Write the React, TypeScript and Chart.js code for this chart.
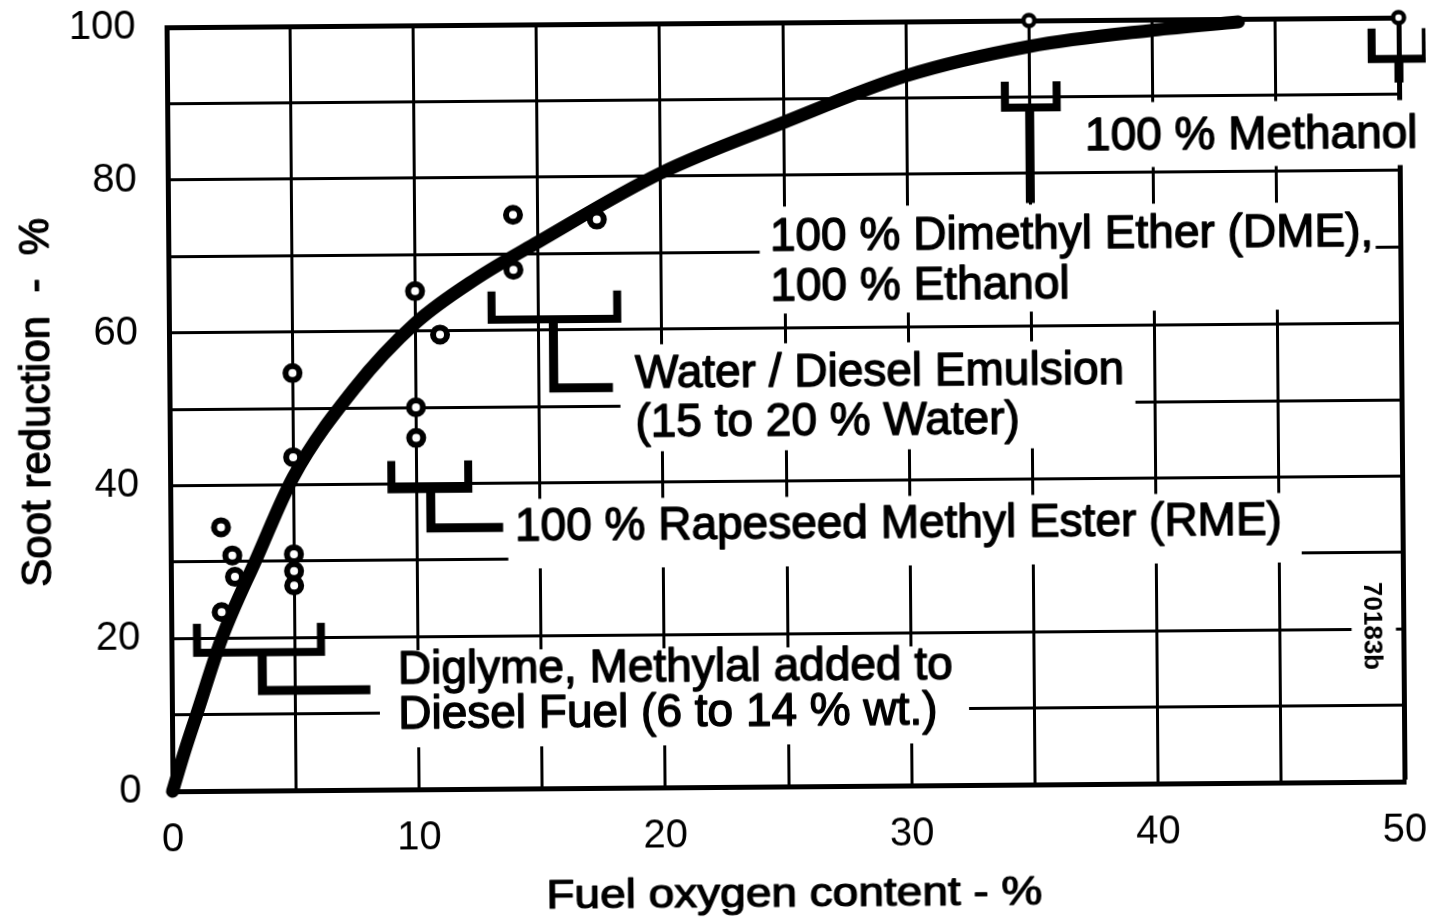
import React, { useEffect, useRef } from "react";
import { Chart, registerables } from "chart.js";

Chart.register(...registerables);

const FONT = '"Liberation Sans", Arial, Helvetica, sans-serif';

// ---- axes ----
const xMin = 0;
const xMax = 50;
const xGridStep = 5;
const xLabelStep = 10;
const yMin = 0;
const yMax = 100;
const yGridStep = 10;
const yLabelStep = 20;
const xTitle = "Fuel oxygen content - %";
const yTitle = "Soot reduction  -  %";

// ---- trend curve ----
const curveX = [0, 0.5, 1, 2.05, 3.5, 5, 7.5, 10, 12.5, 15, 20, 25, 30, 35, 40, 43.5];
const curveY = [0, 5.2, 10, 20, 30.5, 41, 52.5, 61, 66.8, 71.5, 80.4, 86.9, 92.9, 96.6, 98.6, 99.6];

// ---- measured points ----
const pointX = [2.05, 2.5, 2.6, 2.05, 5, 5, 5, 5, 5, 10, 10, 10, 11, 14, 14, 17.4];
const pointY = [34.5, 30.8, 28, 23.4, 30.9, 28.7, 26.8, 43.6, 54.6, 65.2, 50, 46, 59.5, 75.1, 67.9, 74.4];

// ---- pure-fuel points (top) ----
const pureX = [35, 50];
const pureY = [100, 100];

// ---- brackets (data units) ----
const bracketLeft = [1.04, 8.98, 13.1, 34.0, 48.9];
const bracketRight = [6.07, 12.1, 18.2, 36.1, 51.1];
const bracketBar = [18.1, 39.3, 61.4, 88.6, 94.6];
const bracketTop = [21.9, 43.0, 65.1, 92.0, 98.6];
const connectorX = [3.68, 10.57, 15.6, 35, 50];
const connectorLow = [13.1, 34.2, 52.4, 76.1, 91.5];
const connectorEnd: (number | null)[] = [8.06, 13.5, 18.0, null, null];

// ---- annotation labels ----
const labelLines = [
  ["Diglyme, Methylal added to", "Diesel Fuel (6 to 14 % wt.)"],
  ["100 % Rapeseed Methyl Ester (RME)"],
  ["Water / Diesel Emulsion", "(15 to 20 % Water)"],
  ["100 % Dimethyl Ether (DME),", "100 % Ethanol"],
  ["100 % Methanol"],
];
const labelX = [9.18, 13.98, 18.9, 24.42, 37.24];
const labelY = [[15.6, 9.7], [34.1], [54.0, 47.6], [71.8, 65.26], [84.6]];

// white areas behind the labels (data units)
const maskX0 = [8.44, 13.7, 18.3, 24.0, 36.7, 47.9];
const maskX1 = [32.35, 45.9, 39.2, 49.0, 51.6, 49.7];
const maskY0 = [5.5, 28.8, 44.0, 61.9, 80.7, 14.4];
const maskY1 = [18.2, 37.9, 58.0, 75.9, 89.2, 27.5];

const figureCode = "70183b";
const figureCodeX = 48.7;
const figureCodeY = 20.4;

const annotationPlugin = {
  id: "sootAnnotations",
  beforeDatasetsDraw(chart: any) {
    const { ctx, scales } = chart;
    const xs = scales.x;
    const ys = scales.y;
    const px = (v: number) => xs.getPixelForValue(v);
    const py = (v: number) => ys.getPixelForValue(v);
    ctx.save();
    // masks
    ctx.fillStyle = "#ffffff";
    for (let i = 0; i < maskX0.length; i++) {
      const x0 = px(maskX0[i]);
      const x1 = px(maskX1[i]);
      const y0 = py(maskY1[i]);
      const y1 = py(maskY0[i]);
      ctx.fillRect(x0, y0, x1 - x0, y1 - y0);
    }
    // thin lines from pure-fuel points down to brackets
    ctx.strokeStyle = "#000";
    ctx.lineWidth = 3;
    for (let i = 0; i < pureX.length; i++) {
      ctx.beginPath();
      ctx.moveTo(px(pureX[i]), py(pureY[i]));
      ctx.lineTo(px(pureX[i]), py(bracketBar[3 + i]));
      ctx.stroke();
    }
    // brackets
    ctx.lineJoin = "miter";
    ctx.lineCap = "butt";
    for (let i = 0; i < bracketLeft.length; i++) {
      ctx.lineWidth = 8;
      ctx.beginPath();
      ctx.moveTo(px(bracketLeft[i]), py(bracketTop[i]));
      ctx.lineTo(px(bracketLeft[i]), py(bracketBar[i]));
      ctx.lineTo(px(bracketRight[i]), py(bracketBar[i]));
      ctx.lineTo(px(bracketRight[i]), py(bracketTop[i]));
      ctx.stroke();
      ctx.lineWidth = 9;
      ctx.beginPath();
      ctx.moveTo(px(connectorX[i]), py(bracketBar[i]));
      ctx.lineTo(px(connectorX[i]), py(connectorLow[i]));
      const end = connectorEnd[i];
      if (end !== null) ctx.lineTo(px(end), py(connectorLow[i]));
      ctx.stroke();
    }
    // labels
    ctx.fillStyle = "#000";
    ctx.font = `46px ${FONT}`;
    ctx.textBaseline = "middle";
    ctx.textAlign = "left";
    ctx.lineWidth = 1.4;
    ctx.lineJoin = "round";
    for (let i = 0; i < labelLines.length; i++) {
      for (let j = 0; j < labelLines[i].length; j++) {
        const tx = px(labelX[i]);
        const ty = py(labelY[i][j]);
        ctx.fillText(labelLines[i][j], tx, ty);
        ctx.strokeText(labelLines[i][j], tx, ty);
      }
    }
    // figure code, rotated
    ctx.save();
    ctx.translate(px(figureCodeX), py(figureCodeY));
    ctx.rotate(Math.PI / 2);
    ctx.font = `bold 26px ${FONT}`;
    ctx.textAlign = "center";
    ctx.fillText(figureCode, 0, 0);
    ctx.restore();
    ctx.restore();
  },
  afterDraw(chart: any) {
    const { ctx, chartArea } = chart;
    ctx.save();
    ctx.fillStyle = "#000";
    ctx.strokeStyle = "#000";
    ctx.lineWidth = 1.2;
    ctx.lineJoin = "round";
    // y title
    ctx.save();
    ctx.translate(chartArea.left - 120, (chartArea.top + chartArea.bottom) / 2 - 8);
    ctx.rotate(-Math.PI / 2);
    ctx.font = `42px ${FONT}`;
    ctx.textAlign = "center";
    ctx.textBaseline = "alphabetic";
    ctx.fillText(yTitle, 0, 0);
    ctx.strokeText(yTitle, 0, 0);
    ctx.restore();
    // x title
    ctx.save();
    ctx.translate((chartArea.left + chartArea.right) / 2 + 5, chartArea.bottom + 120);
    ctx.scale(1.15, 1);
    ctx.font = `40px ${FONT}`;
    ctx.textAlign = "center";
    ctx.textBaseline = "alphabetic";
    ctx.fillText(xTitle, 0, 0);
    ctx.strokeText(xTitle, 0, 0);
    ctx.restore();
    ctx.restore();
  },
};

export default function App() {
  const canvasRef = useRef<HTMLCanvasElement | null>(null);

  useEffect(() => {
    document.body.style.margin = "0";
    document.body.style.background = "#fff";
    const canvas = canvasRef.current;
    if (!canvas) return;
    const chart = new Chart(canvas, {
      type: "line",
      data: {
        datasets: [
          {
            type: "scatter",
            label: "pure",
            data: pureX.map((x, i) => ({ x, y: pureY[i] })),
            pointRadius: 5.5,
            pointBorderWidth: 4.5,
            pointBackgroundColor: "#fff",
            pointBorderColor: "#000",
            showLine: false,
            clip: false,
          } as any,
          {
            type: "scatter",
            label: "measured",
            data: pointX.map((x, i) => ({ x, y: pointY[i] })),
            pointRadius: 7,
            pointBorderWidth: 6,
            pointBackgroundColor: "#fff",
            pointBorderColor: "#000",
            showLine: false,
            clip: false,
          } as any,
          {
            type: "line",
            label: "trend",
            data: curveX.map((x, i) => ({ x, y: curveY[i] })),
            borderColor: "#000",
            borderWidth: 13,
            pointRadius: 0,
            cubicInterpolationMode: "monotone",
            borderCapStyle: "round",
            fill: false,
            clip: false,
          } as any,
        ],
      },
      options: {
        animation: false,
        responsive: false,
        devicePixelRatio: 1,
        layout: { padding: { top: 23, right: 27, left: 0, bottom: 0 }, autoPadding: false },
        plugins: { legend: { display: false }, tooltip: { enabled: false }, title: { display: false } },
        events: [],
        scales: {
          x: {
            type: "linear",
            min: xMin,
            max: xMax,
            ticks: {
              stepSize: xGridStep,
              autoSkip: false,
              maxRotation: 0,
              padding: 25,
              color: "#000",
              font: { family: FONT, size: 40 },
              callback: (v: any) => (Number(v) % xLabelStep === 0 ? String(v) : ""),
            },
            grid: {
              color: "#000",
              lineWidth: (c: any) => (c.tick && c.tick.value === xMax ? 5 : 3),
              drawTicks: false,
            },
            border: { color: "#000", width: 5 },
            afterFit: (s: any) => {
              s.height = 136;
              s.paddingLeft = 0;
              s.paddingRight = 0;
              s.paddingTop = 0;
              s.paddingBottom = 0;
            },
          },
          y: {
            type: "linear",
            min: yMin,
            max: yMax,
            ticks: {
              stepSize: yGridStep,
              autoSkip: false,
              padding: 31,
              color: "#000",
              font: { family: FONT, size: 40 },
              callback: (v: any) => (Number(v) % yLabelStep === 0 ? String(v) : ""),
            },
            grid: {
              color: "#000",
              lineWidth: (c: any) => (c.tick && c.tick.value === yMax ? 5 : 3),
              drawTicks: false,
            },
            border: { color: "#000", width: 5 },
            afterFit: (s: any) => {
              s.width = 170;
              s.paddingLeft = 0;
              s.paddingRight = 0;
              s.paddingTop = 0;
              s.paddingBottom = 0;
            },
          },
        },
      } as any,
      plugins: [annotationPlugin],
    });
    return () => chart.destroy();
  }, []);

  return (
    <div style={{ width: 1429, height: 923, overflow: "hidden", background: "#fff" }}>
      <canvas
        ref={canvasRef}
        width={1429}
        height={923}
        style={{ display: "block", width: 1429, height: 923, transform: "rotate(-0.45deg)", transformOrigin: "50% 50%" }}
      />
    </div>
  );
}
